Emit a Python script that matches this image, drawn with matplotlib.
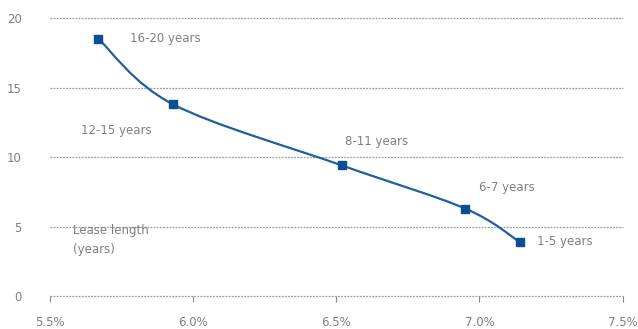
import matplotlib
matplotlib.use("Agg")
import matplotlib.pyplot as plt
import numpy as np
from matplotlib.path import Path
from matplotlib.patches import PathPatch

# data
yield_pct = [5.67, 5.93, 6.52, 6.95, 7.14]
lease_years = [18.5, 13.8, 9.4, 6.3, 3.9]
labels = ["16-20 years", "12-15 years", "8-11 years", "6-7 years", "1-5 years"]
label_pos = [(5.78, 18.5), (5.61, 11.9), (6.53, 11.1), (7.0, 7.8), (7.2, 3.9)]
xticks = [5.5, 6.0, 6.5, 7.0, 7.5]
xticklabels = ["5.5%", "6.0%", "6.5%", "7.0%", "7.5%"]
yticks = [0, 5, 10, 15, 20]

line_col = "#1f5fa0"
text_col = "#7f7f7f"

fig = plt.figure(figsize=(6.38, 3.29), dpi=100)
ax = fig.add_axes([0.078, 0.10, 0.898, 0.845])

# smooth line through points (Catmull-Rom -> cubic bezier)
x = np.array(yield_pct)
y = np.array(lease_years)
verts = [(x[0], y[0])]
codes = [Path.MOVETO]
for i in range(len(x) - 1):
    p0 = np.array([x[max(i - 1, 0)], y[max(i - 1, 0)]])
    p1 = np.array([x[i], y[i]])
    p2 = np.array([x[i + 1], y[i + 1]])
    p3 = np.array([x[min(i + 2, len(x) - 1)], y[min(i + 2, len(x) - 1)]])
    c1 = p1 + (p2 - p0) / 6
    c2 = p2 - (p3 - p1) / 6
    verts += [tuple(c1), tuple(c2), tuple(p2)]
    codes += [Path.CURVE4] * 3
ax.add_patch(PathPatch(Path(verts, codes), fill=False, edgecolor=line_col, lw=1.6, zorder=3))
ax.plot(x, y, ls="none", marker="s", ms=6, color="#0a4f94", zorder=4)

for lab, (lx, ly) in zip(labels, label_pos):
    ax.text(lx, ly, lab, fontsize=8.5, color=text_col, va="center", ha="left")
ax.text(5.58, 4.0, "Lease length\n(years)", fontsize=8.5, color=text_col, va="center", ha="left", linespacing=1.6)

for yv in yticks:
    ax.axhline(yv, color="#8fa0a6", lw=0.9, ls=(0, (1.5, 1)), zorder=1, clip_on=False)

ax.set_xlim(5.5, 7.5)
ax.set_ylim(0, 20)
ax.set_xticks(xticks)
ax.set_xticklabels(xticklabels)
ax.set_yticks(yticks)
for s in ax.spines.values():
    s.set_visible(False)
ax.tick_params(axis="x", length=4, color="#888888", labelsize=8.5, labelcolor=text_col, pad=10)
ax.tick_params(axis="y", length=0, labelsize=8.5, labelcolor=text_col, pad=20)

fig.savefig("out.png", dpi=100)
